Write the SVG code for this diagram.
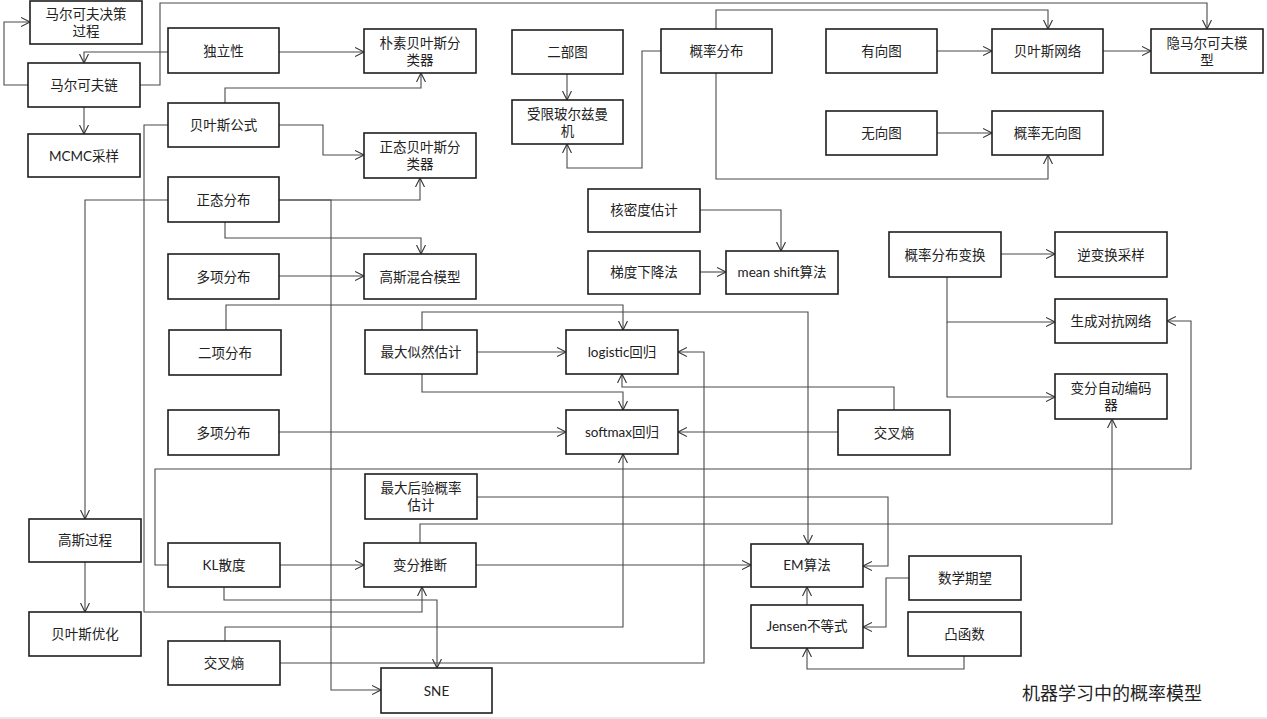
<svg xmlns="http://www.w3.org/2000/svg" width="1267" height="719" viewBox="0 0 1267 719">
<style>
.n rect{fill:#fff;stroke:#1e1e1e;stroke-width:1.6}
.n text{font-family:Lato,"Noto Sans CJK SC",sans-serif;font-size:13.5px;fill:#222;text-anchor:middle}
.c path{fill:none;stroke:#4a4a4a;stroke-width:1.1;marker-end:url(#a)}
.t{font-family:Lato,"Noto Sans CJK SC",sans-serif;font-size:18px;fill:#222}
</style>
<defs>
<marker id="a" markerUnits="userSpaceOnUse" markerWidth="12" markerHeight="12" refX="9" refY="5" orient="auto">
<path d="M0,0.5 L9,5 L0,9.5" fill="none" stroke="#333" stroke-width="1.1"/>
</marker>
</defs>
<rect width="1267" height="719" fill="#fff"/>
<g class="c">
<path d="M28,85 H4 V22 H30"/>
<path d="M84,107 V134"/>
<path d="M168,52 H84 V63"/>
<path d="M140,85 H160 V3 H1207 V29"/>
<path d="M279,52 H364"/>
<path d="M225,103 V88 H421 V73"/>
<path d="M279,125 H323 V155 H364"/>
<path d="M168,125 H144 V612 H422 V587"/>
<path d="M168,200 H85 V519"/>
<path d="M85,562 V612"/>
<path d="M279,200 H420 V178"/>
<path d="M279,200 H331 V690 H381"/>
<path d="M225,222 V238 H421 V254"/>
<path d="M279,276 H364"/>
<path d="M226,330 V305 H623 V330"/>
<path d="M422,330 V312 H808 V544"/>
<path d="M477,352 H566"/>
<path d="M422,374 V392 H623 V410"/>
<path d="M279,432 H566"/>
<path d="M838,432 H678"/>
<path d="M894,410 V387 H622 V374"/>
<path d="M280,663 H704 V352 H678"/>
<path d="M225,641 V627 H623 V454"/>
<path d="M168,565 H155 V469 H1191 V321 H1167"/>
<path d="M280,565 H364"/>
<path d="M224,587 V600 H437 V668"/>
<path d="M476,565 H751"/>
<path d="M420,543 V524 H1112 V419"/>
<path d="M477,497 H888 V566 H863"/>
<path d="M909,578 H886 V627 H863"/>
<path d="M964,656 V669 H807 V648"/>
<path d="M807,605 V587"/>
<path d="M567,74 V100"/>
<path d="M661,51 H642 V168 H567 V144"/>
<path d="M716,29 V10 H1048 V29"/>
<path d="M716,73 V179 H1048 V155"/>
<path d="M937,51 H992"/>
<path d="M1103,51 H1151"/>
<path d="M937,133 H992"/>
<path d="M700,210 H781 V251"/>
<path d="M700,272 H726"/>
<path d="M1001,254 H1055"/>
<path d="M947,277 V322 H1055"/>
<path d="M947,322 V397 H1055"/>
</g>
<g id="mdp" class="n"><rect x="30" y="1" width="112" height="43"/><text x="86" y="19">马尔可夫决策</text><text x="86" y="36">过程</text></g>
<g id="markov" class="n"><rect x="28" y="63" width="112" height="44"/><text x="84" y="90">马尔可夫链</text></g>
<g id="mcmc" class="n"><rect x="28" y="134" width="112" height="43"/><text x="84" y="161">MCMC采样</text></g>
<g id="indep" class="n"><rect x="168" y="28" width="111" height="45"/><text x="223.5" y="56">独立性</text></g>
<g id="bayesf" class="n"><rect x="168" y="103" width="111" height="44"/><text x="223.5" y="130">贝叶斯公式</text></g>
<g id="normal" class="n"><rect x="168" y="177" width="111" height="45"/><text x="223.5" y="205">正态分布</text></g>
<g id="multi1" class="n"><rect x="168" y="254" width="111" height="45"/><text x="223.5" y="282">多项分布</text></g>
<g id="binom" class="n"><rect x="169" y="330" width="112" height="45"/><text x="225" y="358">二项分布</text></g>
<g id="multi2" class="n"><rect x="168" y="410" width="111" height="45"/><text x="223.5" y="438">多项分布</text></g>
<g id="nb" class="n"><rect x="364" y="29" width="112" height="44"/><text x="420" y="48">朴素贝叶斯分</text><text x="420" y="65">类器</text></g>
<g id="nbc" class="n"><rect x="364" y="133" width="112" height="45"/><text x="420" y="152">正态贝叶斯分</text><text x="420" y="169">类器</text></g>
<g id="gmm" class="n"><rect x="364" y="254" width="112" height="45"/><text x="420" y="282">高斯混合模型</text></g>
<g id="mle" class="n"><rect x="365" y="330" width="112" height="44"/><text x="421" y="357">最大似然估计</text></g>
<g id="logistic" class="n"><rect x="566" y="330" width="112" height="44"/><text x="622" y="357">logistic回归</text></g>
<g id="softmax" class="n"><rect x="566" y="410" width="112" height="44"/><text x="622" y="437">softmax回归</text></g>
<g id="bip" class="n"><rect x="512" y="30" width="111" height="44"/><text x="567.5" y="57">二部图</text></g>
<g id="rbm" class="n"><rect x="512" y="100" width="111" height="44"/><text x="567.5" y="119">受限玻尔兹曼</text><text x="567.5" y="136">机</text></g>
<g id="prob" class="n"><rect x="661" y="29" width="111" height="44"/><text x="716.5" y="56">概率分布</text></g>
<g id="dg" class="n"><rect x="826" y="29" width="111" height="44"/><text x="881.5" y="56">有向图</text></g>
<g id="ug" class="n"><rect x="826" y="111" width="111" height="44"/><text x="881.5" y="138">无向图</text></g>
<g id="bn" class="n"><rect x="992" y="29" width="111" height="44"/><text x="1047.5" y="56">贝叶斯网络</text></g>
<g id="hmm" class="n"><rect x="1151" y="29" width="112" height="44"/><text x="1207" y="48">隐马尔可夫模</text><text x="1207" y="65">型</text></g>
<g id="pug" class="n"><rect x="992" y="111" width="111" height="44"/><text x="1047.5" y="138">概率无向图</text></g>
<g id="kde" class="n"><rect x="588" y="189" width="112" height="43"/><text x="644" y="215">核密度估计</text></g>
<g id="gd" class="n"><rect x="588" y="251" width="112" height="43"/><text x="644" y="277">梯度下降法</text></g>
<g id="ms" class="n"><rect x="726" y="251" width="112" height="43"/><text x="782" y="277">mean shift算法</text></g>
<g id="ce1" class="n"><rect x="838" y="410" width="112" height="45"/><text x="894" y="438">交叉熵</text></g>
<g id="pdt" class="n"><rect x="889" y="232" width="112" height="45"/><text x="945" y="260">概率分布变换</text></g>
<g id="its" class="n"><rect x="1055" y="232" width="112" height="45"/><text x="1111" y="260">逆变换采样</text></g>
<g id="gan" class="n"><rect x="1055" y="299" width="112" height="44"/><text x="1111" y="326">生成对抗网络</text></g>
<g id="vae" class="n"><rect x="1055" y="374" width="112" height="45"/><text x="1111" y="393">变分自动编码</text><text x="1111" y="410">器</text></g>
<g id="gp" class="n"><rect x="29" y="519" width="112" height="43"/><text x="85" y="545">高斯过程</text></g>
<g id="bo" class="n"><rect x="29" y="612" width="112" height="44"/><text x="85" y="639">贝叶斯优化</text></g>
<g id="kl" class="n"><rect x="168" y="543" width="112" height="44"/><text x="224" y="570">KL散度</text></g>
<g id="ce2" class="n"><rect x="168" y="641" width="112" height="44"/><text x="224" y="668">交叉熵</text></g>
<g id="map" class="n"><rect x="365" y="474" width="112" height="45"/><text x="421" y="493">最大后验概率</text><text x="421" y="510">估计</text></g>
<g id="vi" class="n"><rect x="364" y="543" width="112" height="44"/><text x="420" y="570">变分推断</text></g>
<g id="sne" class="n"><rect x="381" y="668" width="111" height="45"/><text x="436.5" y="696">SNE</text></g>
<g id="em" class="n"><rect x="751" y="544" width="112" height="43"/><text x="807" y="570">EM算法</text></g>
<g id="jensen" class="n"><rect x="751" y="605" width="112" height="43"/><text x="807" y="631">Jensen不等式</text></g>
<g id="exp" class="n"><rect x="909" y="556" width="112" height="44"/><text x="965" y="583">数学期望</text></g>
<g id="convex" class="n"><rect x="908" y="612" width="113" height="44"/><text x="964.5" y="639">凸函数</text></g>
<text class="t" x="1022" y="700">机器学习中的概率模型</text>
<line x1="0" y1="718" x2="1267" y2="718" stroke="#e0e0e0" stroke-width="1.5"/>
</svg>
